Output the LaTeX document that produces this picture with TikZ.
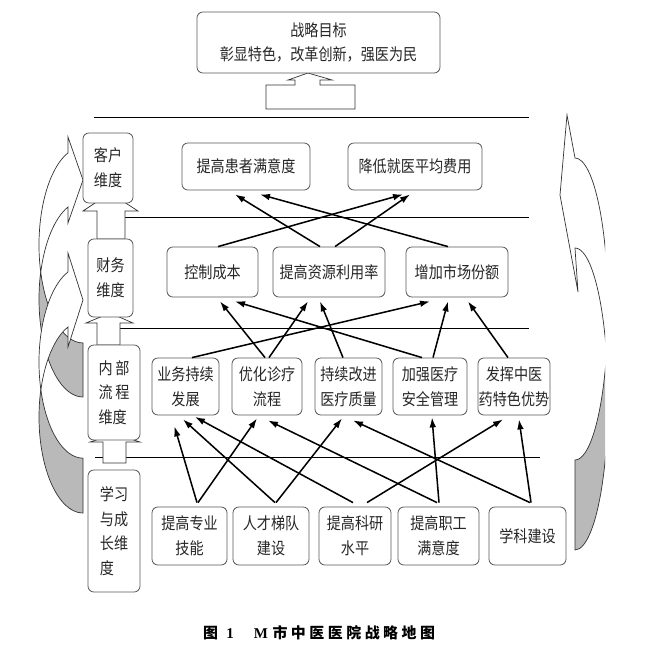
\documentclass[tikz,border=0pt]{standalone}
\usepackage{fontspec}
\setmainfont{Noto Sans CJK SC}[FakeStretch=0.86]
\newfontfamily\capfont{Noto Sans CJK SC}
\newfontfamily\latinfont{Liberation Serif}
\usetikzlibrary{arrows.meta,calc}

\newcommand{\ck}{\kern3pt}

\tikzset{
  box/.style={draw=black!65, line width=0.7pt, rounded corners=5pt, fill=white,
    inner sep=0pt, align=center, text=black!85, font=\fontsize{14pt}{21pt}\selectfont},
  sz/.style 2 args={minimum width=#1*0.03cm, minimum height=#2*0.03cm},
  link/.style={line width=1.3pt, -{Latex[length=3mm,width=2mm]}},
  divider/.style={line width=0.8pt},
  uparrow/.style={draw=black!80, line width=0.6pt, fill=white},
  ribbon/.style={draw=black!80, line width=0.6pt, fill=white},
  backside/.style={draw=black!80, line width=0.6pt, fill=gray!55},
}

\begin{document}
\begin{tikzpicture}[x=0.03cm, y=-0.03cm]
\useasboundingbox (0,0) rectangle (663,653);

% curved arrows on the left
\draw[backside] (83,397) arc[start angle=90, end angle=196, x radius=44, y radius=98]
  arc[start angle=164, end angle=90, x radius=44, y radius=98] -- cycle;
\draw[ribbon] (40.7,272) arc[start angle=164, end angle=250, x radius=44, y radius=98]
  -- (68,137) -- (83,180) -- (68,223) -- (68,207)
  arc[start angle=250, end angle=196, x radius=44, y radius=98] -- cycle;
\draw[backside] (83,513) arc[start angle=90, end angle=196.6, x radius=44, y radius=96]
  arc[start angle=163.4, end angle=90, x radius=44, y radius=96] -- cycle;
\draw[ribbon] (40.83,389.57) arc[start angle=163.4, end angle=250, x radius=44, y radius=96]
  -- (68,253) -- (83,300) -- (68,347) -- (68,327)
  arc[start angle=250, end angle=196.6, x radius=44, y radius=96] -- cycle;

% curved arrow on the right, cut by the page edge
\begin{scope}
  \clip (540,100) rectangle (605,600);
  \draw[backside] (575,550) arc[start angle=90, end angle=-17.34, x radius=33, y radius=151]
    arc[start angle=17.34, end angle=90, x radius=33, y radius=151] -- cycle;
  \draw[ribbon] (606.5,354) arc[start angle=17.34, end angle=-90, x radius=33, y radius=151]
    -- (567,115) -- (560,195) -- (578,292) -- (575,248)
    arc[start angle=-90, end angle=-17.34, x radius=33, y radius=151] -- cycle;
\end{scope}

% level lines
\draw[divider] (94,117) -- (529,117);
\draw[divider] (125,217) -- (529,217);
\draw[divider] (120,328) -- (529,328);
\draw[divider] (95,457) -- (540,457);

% hollow arrows
\draw[uparrow] (266,109) -- (266,85) -- (295,85) -- (295,80) -- (288,80) -- (308,73)
  -- (332,80) -- (320,80) -- (320,85) -- (355,85) -- (355,109) -- cycle;
\draw[uparrow] (97,239) -- (97,211) -- (83,211) -- (110,193) -- (138,211) -- (125,211) -- (125,239) -- cycle;
\draw[uparrow] (97,345) -- (97,323) -- (86,323) -- (110,313) -- (133,323) -- (120,323) -- (120,345) -- cycle;
\draw[uparrow] (103,463) -- (103,442) -- (90,442) -- (115,434) -- (140,442) -- (126,442) -- (126,463) -- cycle;

% goal
\node[box, sz={243}{61}] (goal) at (318.5,42.5) {战略目标\\彰显特色，改革创新，强医为民};

% dimensions
\node[box, sz={50}{70}] (cust) at (108,168) {客户\\维度};
\node[box, sz={45}{78}] (fin) at (110.5,278) {财务\\维度};
\node[box, sz={52}{95}, align=left] (proc) at (114,392.5) {内\,部\\流\,程\\维度};
\node[box, sz={52}{122}, align=left] (learn) at (114,531) {学习\\与成\\长维\\度};

% customer
\node[box, sz={128}{47}] (c1) at (246,166.5) {提高患者满意度};
\node[box, sz={134}{47}] (c2) at (415,166.5) {降低就医平均费用};

% finance
\node[box, sz={91}{50}] (f1) at (212.5,272) {控制成本};
\node[box, sz={112}{50}] (f2) at (329,272) {提高资源利用率};
\node[box, sz={102}{50}] (f3) at (457,272) {增加市场份额};

% internal process
\node[box, sz={67}{57}] (p1) at (185.5,386.5) {业务持续\\发展};
\node[box, sz={70}{57}] (p2) at (267,386.5) {优化诊疗\\流程};
\node[box, sz={67}{57}] (p3) at (348.5,386.5) {持续改进\\医疗质量};
\node[box, sz={74}{57}] (p4) at (430,386.5) {加强医疗\\安全管理};
\node[box, sz={72}{57}] (p5) at (514,386.5) {发挥中医\\药特色优势};

% learning and growth
\node[box, sz={75}{58}] (l1) at (189.5,536) {提高专业\\技能};
\node[box, sz={76}{58}] (l2) at (271,536) {人才梯队\\建设};
\node[box, sz={72}{58}] (l3) at (355,536) {提高科研\\水平};
\node[box, sz={81}{58}] (l4) at (438.5,536) {提高职工\\满意度};
\node[box, sz={77}{58}] (l5) at (527.5,536) {学科建设};

% finance -> customer
\draw[link] ($(f1.north)+(5.5,0)$) -- ($(c2.south)+(-12,4)$);
\draw[link] ($(f2.north)+(-9,0)$) -- ($(c1.south)+(-11,4)$);
\draw[link] ($(f2.north)+(6,0)$) -- ($(c2.south)+(-5,4)$);
\draw[link] ($(f3.north)+(-9,0)$) -- ($(c1.south)+(14,4)$);

% process -> finance
\draw[link] ($(p1.north)+(6.5,0)$) -- ($(f3.south)+(-27,4)$);
\draw[link] ($(p2.north)+(-2,0)$) -- ($(f1.south)+(7.5,4)$);
\draw[link] ($(p2.north)+(2,0)$) -- ($(f2.south)+(-21,4)$);
\draw[link] ($(p3.north)+(-5.5,0)$) -- ($(f2.south)+(-9,4)$);
\draw[link] ($(p4.north)+(-8,0)$) -- ($(f1.south)+(22.5,4)$);
\draw[link] ($(p4.north)+(3,0)$) -- ($(f3.south)+(-9,4)$);
\draw[link] ($(p5.north)+(-6,0)$) -- ($(f3.south)+(11,4)$);

% learning -> process
\draw[link] ($(l1.north)+(7.5,-4)$) -- ($(p1.south)+(-11,11)$);
\draw[link] ($(l1.north)+(8.5,-4)$) -- ($(p2.south)+(-10,3)$);
\draw[link] ($(l2.north)+(4,-4)$) -- ($(p1.south)+(-2.5,4)$);
\draw[link] ($(l2.north)+(5,-4)$) -- ($(p3.south)+(-6.5,3)$);
\draw[link] ($(l3.north)+(-2,-4)$) -- ($(p1.south)+(9.5,1.5)$);
\draw[link] ($(l3.north)+(12,-4)$) -- ($(p5.south)+(-11,4)$);
\draw[link] ($(l4.north)+(-1.5,-4)$) -- ($(p2.south)+(1,5)$);
\draw[link] ($(l4.north)+(0.5,-4)$) -- ($(p4.south)+(2,2)$);
\draw[link] ($(l5.north)+(2.5,-4)$) -- ($(p3.south)+(4.5,5)$);
\draw[link] ($(l5.north)+(3.5,-4)$) -- ($(p5.south)+(5,4)$);

% caption
\node[anchor=west, inner sep=0pt, font=\capfont\bfseries\fontsize{12.75pt}{15pt}\selectfont] (cap) at (203,633)
  {图\kern7pt{\latinfont 1}\kern17pt{\latinfont M}\kern4pt 市\ck 中\ck 医\ck 医\ck 院\ck 战\ck 略\ck 地\ck 图};
\end{tikzpicture}
\end{document}
